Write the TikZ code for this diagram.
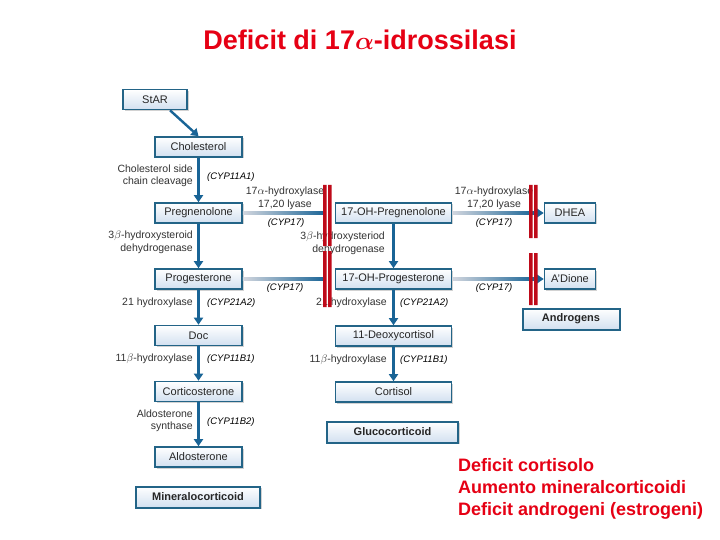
\documentclass[tikz,border=0pt]{standalone}
\usepackage{fontspec}
\setmainfont{Liberation Sans}
\usetikzlibrary{arrows.meta, calc, shadows}
\definecolor{boxblue}{RGB}{35,100,135}
\definecolor{boxfill}{RGB}{210,224,240}
\definecolor{arrowblue}{RGB}{25,100,150}
\definecolor{linkgrey}{RGB}{210,214,222}
\definecolor{barred}{RGB}{190,10,25}
\definecolor{titlered}{RGB}{230,0,20}

\tikzset{
  compbox/.style={draw=boxblue, line width=1.6pt, top color=white, bottom color=boxfill,
    minimum height=20pt, inner sep=1pt, text=black!85, font=\fontsize{11}{13}\selectfont,
    drop shadow={shadow xshift=1.5pt, shadow yshift=-1.5pt, fill=black!35}},
  classbox/.style={compbox, line width=2pt, minimum height=21pt,
    font=\fontsize{11}{13}\selectfont\bfseries},
  enzlabel/.style={anchor=east, align=right, inner sep=0pt, text=black!80,
    font=\fontsize{10.5}{12.5}\selectfont},
  lyaselabel/.style={enzlabel, anchor=center, align=center},
  cyplabel/.style={anchor=west, inner sep=0pt, font=\fontsize{9.5}{11}\selectfont\itshape},
  flowarrow/.style={arrowblue, line width=2.4pt, -{Triangle[width=9pt, length=7pt]}},
  linkshade/.style={left color=linkgrey, right color=arrowblue},
}

\begin{document}
\begin{tikzpicture}[x=1pt, y=-1pt]
  \fill[white] (0,0) rectangle (720,540);
  \useasboundingbox (0,0) rectangle (720,540);

  % Title
  \node[font=\fontsize{27}{30}\selectfont\bfseries, text=titlered] (title) at (360,40)
    {Deficit di 17{\boldmath$\alpha$}-idrossilasi};

  % Mineralocorticoid column
  \node[compbox, minimum width=64pt] (star) at (155,99.5) {StAR};
  \node[compbox, minimum width=87pt] (chol) at (198.5,147) {Cholesterol};
  \node[compbox, minimum width=87pt] (preg) at (198.5,213) {Pregnenolone};
  \node[compbox, minimum width=87pt] (prog) at (198.5,279) {Progesterone};
  \node[compbox, minimum width=87pt] (doc) at (198.5,335.5) {Doc};
  \node[compbox, minimum width=87pt] (cortico) at (198.5,391.5) {Corticosterone};
  \node[compbox, minimum width=87pt] (aldo) at (198.5,457) {Aldosterone};
  \node[classbox, minimum width=124pt] (mineral) at (198,497) {Mineralocorticoid};

  % Glucocorticoid column
  \node[compbox, minimum width=116pt] (ohpreg) at (393.5,213) {17-OH-Pregnenolone};
  \node[compbox, minimum width=116pt] (ohprog) at (393.5,279) {17-OH-Progesterone};
  \node[compbox, minimum width=116pt] (deoxy) at (393.5,336) {11-Deoxycortisol};
  \node[compbox, minimum width=116pt] (cortisol) at (393.5,392) {Cortisol};
  \node[classbox, minimum width=131pt] (gluco) at (392.5,432) {Glucocorticoid};

  % Androgen column
  \node[compbox, minimum width=51pt] (dhea) at (570,213) {DHEA};
  \node[compbox, minimum width=51pt] (adione) at (570,279) {A'Dione};
  \node[classbox, minimum width=97pt] (andro) at (571,319) {Androgens};

  % Vertical steps
  \draw[flowarrow] ($(star.south)+(15,0)$) -- (chol.north);
  \draw[flowarrow] (chol.south) -- (preg.north);
  \draw[flowarrow] (preg.south) -- (prog.north);
  \draw[flowarrow] (prog.south) -- (doc.north);
  \draw[flowarrow] (doc.south) -- (cortico.north);
  \draw[flowarrow] (cortico.south) -- (aldo.north);
  \draw[flowarrow] (ohpreg.south) -- (ohprog.north);
  \draw[flowarrow] (ohprog.south) -- (deoxy.north);
  \draw[flowarrow] (deoxy.south) -- (cortisol.north);

  % Horizontal 17-hydroxylase / lyase steps
  \shade[linkshade] ($(preg.east)+(0,-1.3)$) rectangle ($(ohpreg.west)+(-9,1.3)$);
  \shade[linkshade] ($(prog.east)+(0,-1.3)$) rectangle ($(ohprog.west)+(-9,1.3)$);
  \shade[linkshade] ($(ohpreg.east)+(0,-1.3)$) rectangle ($(dhea.west)+(-8,1.3)$);
  \shade[linkshade] ($(ohprog.east)+(0,-1.3)$) rectangle ($(adione.west)+(-8,1.3)$);
  \draw[flowarrow] ($(dhea.west)+(-9,0)$) -- (dhea.west);
  \draw[flowarrow] ($(adione.west)+(-9,0)$) -- (adione.west);

  % Enzyme labels, left
  \node[enzlabel] (cleavlbl) at (193,176) {Cholesterol side\\chain cleavage};
  \node[cyplabel] (cypscc) at (207,177) {(CYP11A1)};
  \node[enzlabel] (hsdlbl) at (193,242.5) {3$\beta$-hydroxysteroid\\dehydrogenase};
  \node[enzlabel] (hydlbl) at (193,303) {21 hydroxylase};
  \node[cyplabel] (cyphyd) at (207,303) {(CYP21A2)};
  \node[enzlabel] (betalbl) at (193,359) {11$\beta$-hydroxylase};
  \node[cyplabel] (cypbeta) at (207,359) {(CYP11B1)};
  \node[enzlabel] (aldolbl) at (193,421) {Aldosterone\\synthase};
  \node[cyplabel] (cypaldo) at (207,422) {(CYP11B2)};

  % Enzyme labels, centre
  \node[lyaselabel] (lyaselbl) at (285,198.5) {17$\alpha$-hydroxylase\\17,20 lyase};
  \node[cyplabel, anchor=center] (cyplyase) at (286,223) {(CYP17)};
  \node[cyplabel, anchor=center] (cyplyaseb) at (285,288) {(CYP17)};
  \node[enzlabel] (hsdlblb) at (385,243.5) {3$\beta$-hydroxysteriod\\dehydrogenase};
  \node[enzlabel] (hydlblb) at (387,303) {21 hydroxylase};
  \node[cyplabel] (cyphydb) at (400,303) {(CYP21A2)};
  \node[enzlabel] (betalblb) at (387,360) {11$\beta$-hydroxylase};
  \node[cyplabel] (cypbetab) at (400,360) {(CYP11B1)};

  % Enzyme labels, right
  \node[lyaselabel] (lyaselblr) at (494,198.5) {17$\alpha$-hydroxylase\\17,20 lyase};
  \node[cyplabel, anchor=center] (cyplyaser) at (494,223) {(CYP17)};
  \node[cyplabel, anchor=center] (cyplyasebr) at (494,288) {(CYP17)};

  % Blocked steps
  \fill[barred] (323,185) rectangle (326.5,246) (328,185) rectangle (331.5,246);
  \fill[barred] (323,251) rectangle (326.5,307) (328,251) rectangle (331.5,307);
  \fill[barred] (529,185) rectangle (532.5,238) (534,185) rectangle (537.5,238);
  \fill[barred] (529,253) rectangle (532.5,305) (534,253) rectangle (537.5,305);

  % Consequences
  \node[anchor=west, align=left, inner sep=0pt, text=titlered,
    font=\fontsize{18}{22}\selectfont\bfseries] (summary) at (458,489)
    {Deficit cortisolo\\Aumento mineralcorticoidi\\Deficit androgeni (estrogeni)};
\end{tikzpicture}
\end{document}
